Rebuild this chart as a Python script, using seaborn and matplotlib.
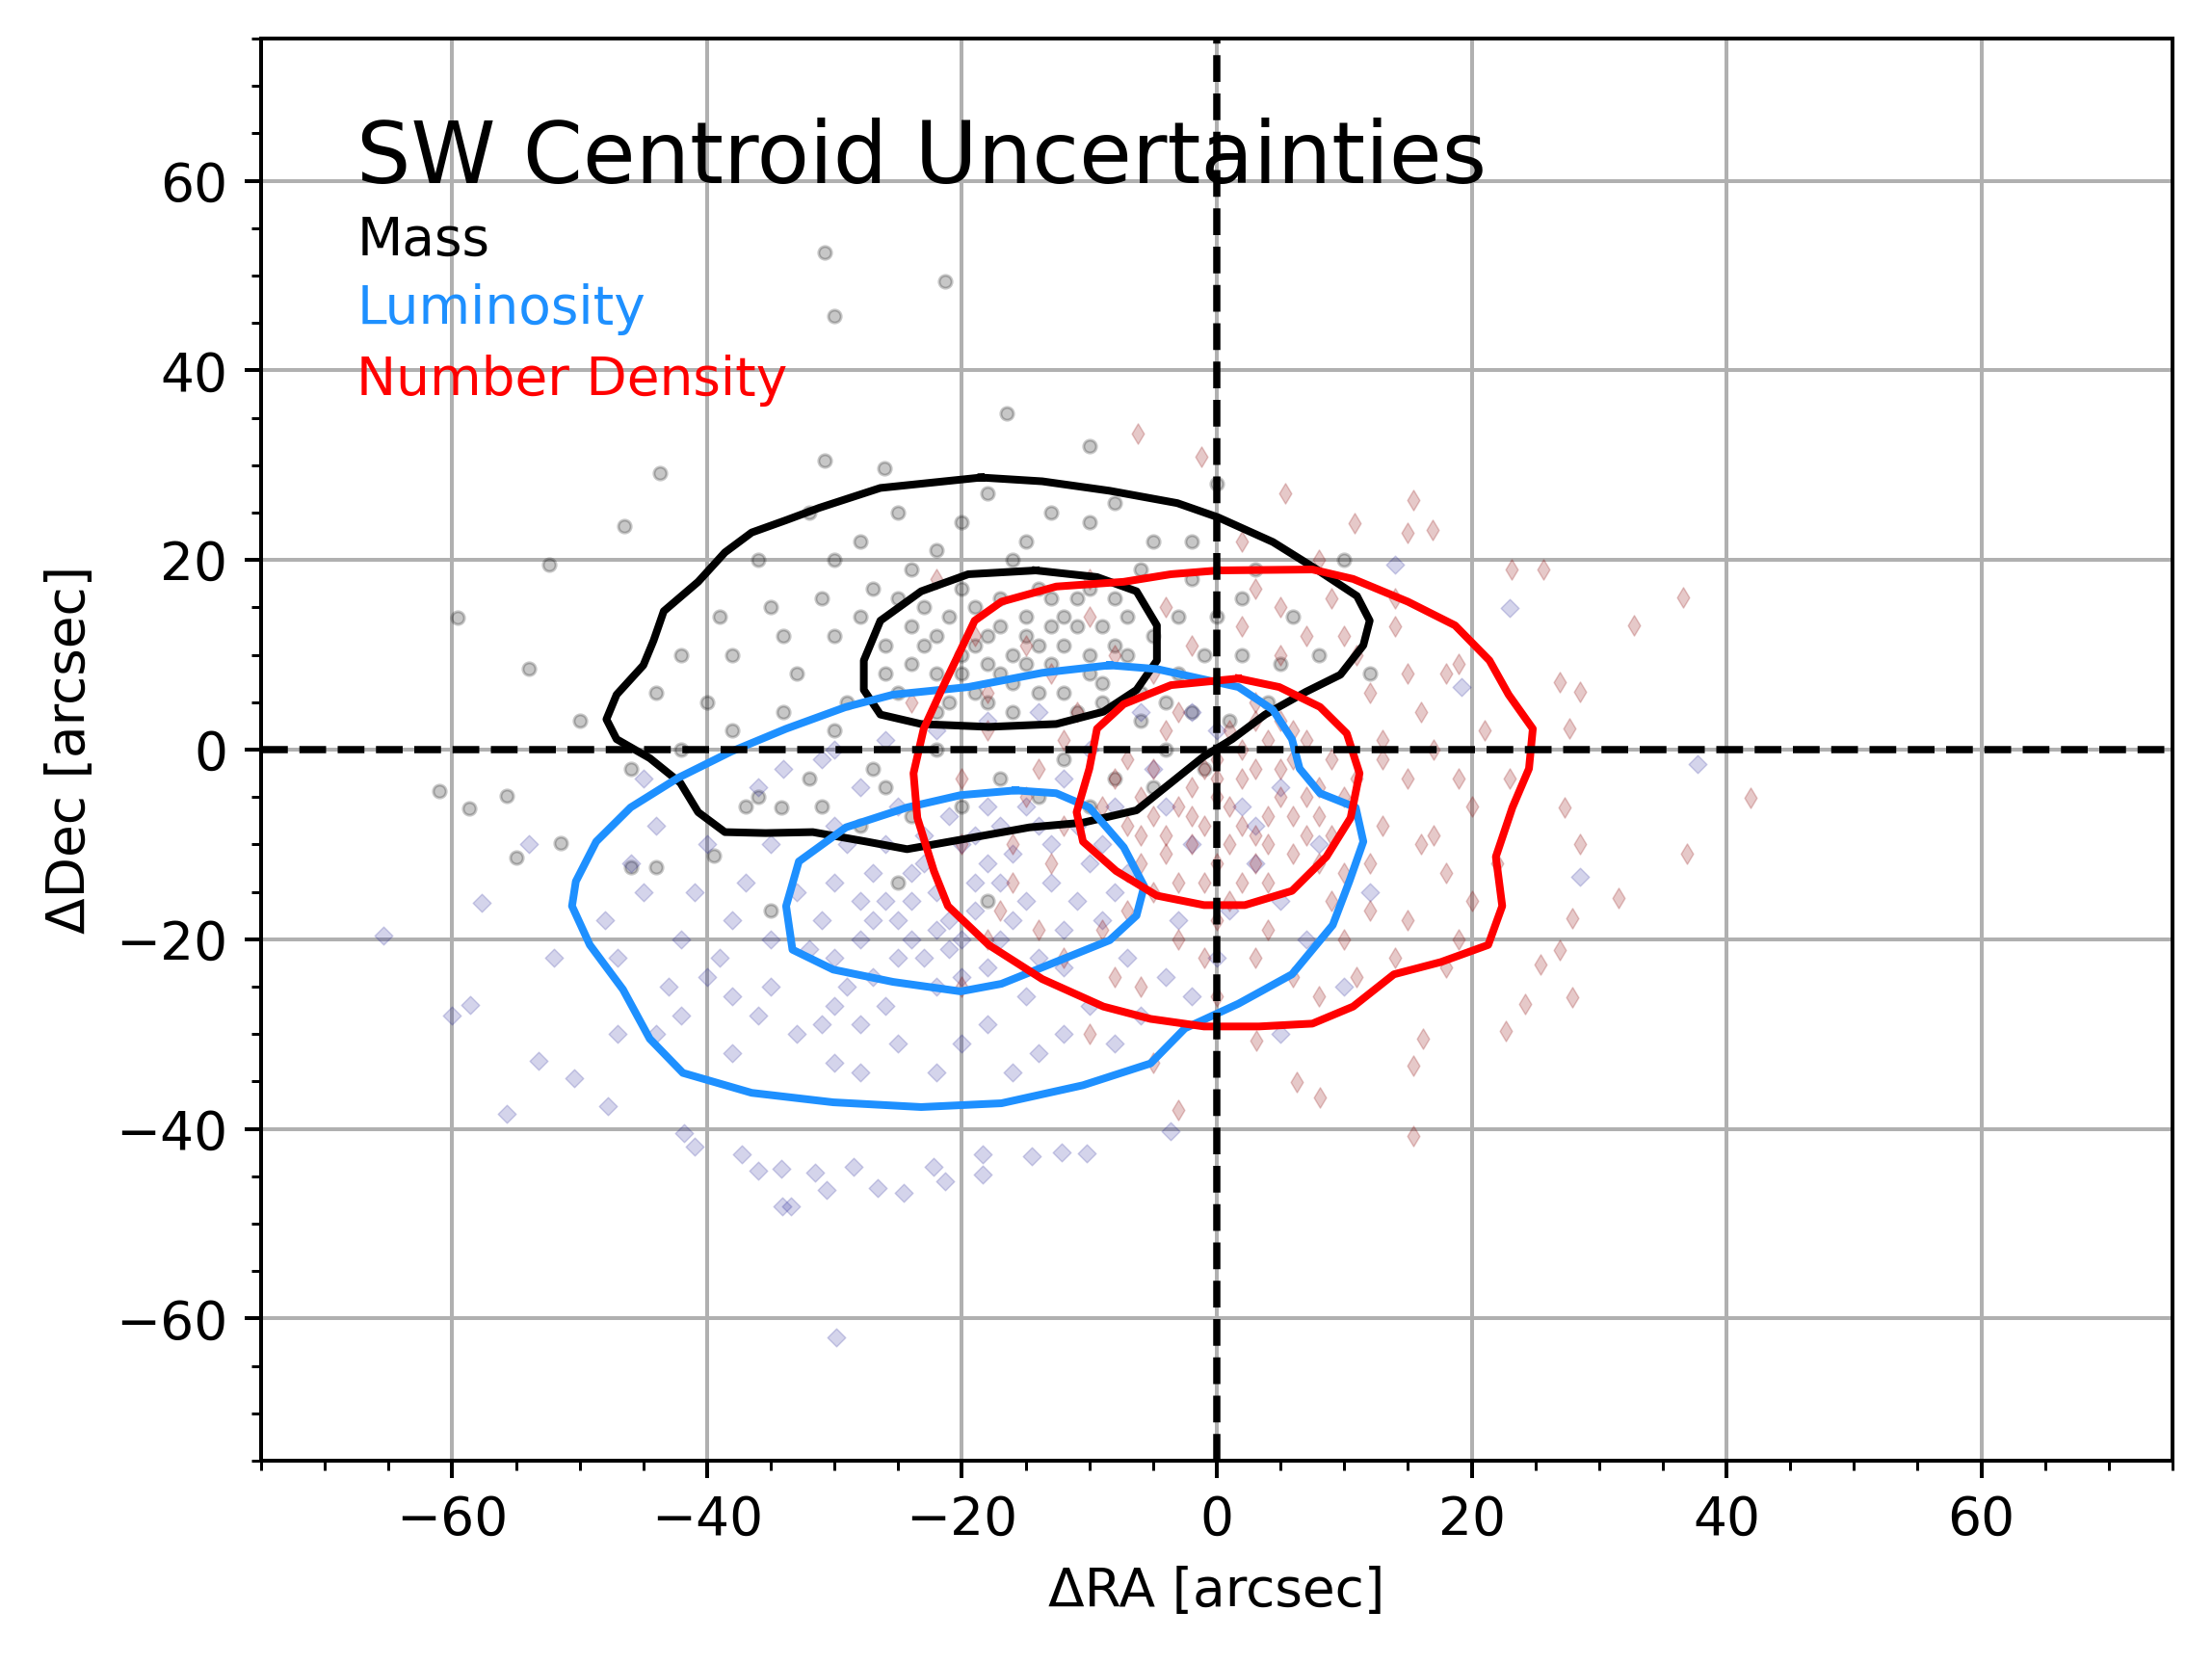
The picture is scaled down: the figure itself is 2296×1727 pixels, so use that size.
import matplotlib
matplotlib.use('Agg')
import matplotlib.pyplot as plt
import numpy as np
import pandas as pd
import seaborn as sns
from matplotlib.ticker import MultipleLocator

plt.rcParams['font.size'] = 11

# Scatter samples (arcsec offsets)
mass_x = [-20, -18, -15, -12, -10, -14, -17, -22, -24, -19, -13, -9, -7, -11, -16, -21, -25, -23, -8, -6,
          -15, -18, -12, -20, -26, -10, -14, -17, -22, -9,
          -16, -13, -11, -19, -21, -23, -17, -14, -8, -10, -12, -16, -20, -24, -18, -15, -13, -7, -9, -22,
          -26, -19, -11, -5, -3, -1, -4, -28, -25, -6,
          -30, -35, -38, -40, -33, -30, -28, -25, -20, -15, -10, -5, -2, 0, 2, 4, -2, -4, -8, -14,
          -20, -26, -32, -36, -42, -44, -36, -32, -18, -8, 3, 6, 8, -3, -28, -38, -34, -27, -6, -1,
          -12, -22, -30, -24,
          -31, -29, -34, -39, -27, -17, -10, -5, 1, 5, -2, -13, -22, -42, -37, -24, -31, -46, 2, -16,
          -30.8, -21.3, -30.0, -16.5, -43.7, -30.8, -26.1, -46.5, -52.4, -59.6, -54.0, -61.0, -55.7, -58.7,
          -51.5, -55.0, -46.0, -44.0, -39.5, -34.2, -35.0, -10, 0, 10, 12, -50, -25, -18]
mass_y = [10, 12, 14, 11, 8, 6, 8, 12, 9, 15, 16, 13, 10, 4, 4, 5, 6, 15, 16, 6,
          9, 5, 14, 17, 11, 17, 11, 13, 8, 7,
          10, 9, 13, 11, 14, 11, 16, 17, 11, 10, 6, 7, 8, 13, 9, 12, 13, 14, 5, 4,
          8, 6, 16, 12, 14, 10, 5, 14, 16, 3,
          20, 15, 10, 5, 8, 2, 22, 25, 24, 22, 24, 22, 18, 14, 10, 5, 4, 0, -3, -5,
          -6, -4, -3, -5, 0, 6, 20, 25, 27, 26, 19, 14, 10, 8, -8, 2, 12, 17, 19, -2,
          -1, 0, 12, 19,
          16, 5, 4, 14, -2, -3, -6, -4, 3, 9, 22, 25, 21, 10, -6, -7, -6, -2, 16, 20,
          52.4, 49.4, 45.7, 35.5, 29.2, 30.5, 29.7, 23.6, 19.5, 13.9, 8.5, -4.4, -4.9, -6.2,
          -9.9, -11.4, -12.4, -12.4, -11.2, -6.1, -17.0, 32, 28, 20, 8, 3, -14, -16]

lum_x = [-25, -22, -28, -20, -18, -15, -30, -26, -23, -12, -10, -17, -21, -27, -31, -24, -19, -14, -29, -16,
         -8, -11, -26, -22, -18, -32, -13, -20, -24, -28, -15, -9, -25, -17, -21, -30, -12, -23, -27, -19,
         -24, -21, -19, -16, -13, -27, -29, -23, -17, -11, -25, -20, -14, -30, -33, -26, -22, -18, -9, -7,
         -35, -36, -31, -39, -41, -28, -16, -8, -2, 3, -4, -12, -31, -43, -47,
         -40, -45, -47, -42, -38, -30, -22, -14, -6, 0, 5, 8, 5, 0, -6, -14, -22, -30, -36, -42,
         -38, -35, -28, -18, -10, -3, -2, 2, -5, -10, -28, -35, -44, -48, -40, -33, -25, -12, -4, 3,
         -8, -2, -18, -34, -38, -44, -30, -20, -7, 1, -37, -46, -15, -26, 7,
         -65.4, -57.7, -58.6, -55.7, -53.2, -50.4, -47.8, -41.8, -41.0, -37.3, -36.0, -34.2, -34.1, -33.4,
         -31.5, -30.6, -28.5, -26.6, -24.6, -22.2, -21.3, -18.4, -18.4, -14.5, -12.2, -10.2, -3.6, -29.9,
         37.7, 28.5, 23.0, 19.2, 14.0, -54, -52, -60, 5, 10, -45, 12]
lum_y = [-18, -15, -20, -20, -12, -16, -14, -10, -22, -19, -12, -8, -7, -24, -18, -13, -17, -22, -10, -11,
         -15, -8, -16, -25, -23, -21, -14, -10, -20, -16, -6, -18, -6, -20, -18, -22, -23, -9, -13, -14,
         -16, -21, -9, -18, -10, -18, -25, -12, -14, -16, -22, -24, -8, -8, -15, -27, -19, -6, -10, -13,
         -20, -28, -29, -22, -15, -34, -34, -31, -26, -8, -6, -3, -1, -25, -30,
         -10, -15, -22, -28, -32, -33, -34, -32, -28, -22, -16, -10, -4, 2, 4, 4, 2, 0, -4, -20,
         -18, -25, -29, -29, -27, -18, -10, -6, -2, 0, -4, -10, -8, -18, -24, -30, -31, -30, -24, -12,
         -6, 4, 3, -2, -26, -30, -27, -31, -22, -17, -14, -12, -26, 1, -20,
         -19.6, -16.2, -26.9, -38.4, -32.8, -34.7, -37.6, -40.4, -41.9, -42.7, -44.4, -44.2, -48.2, -48.2,
         -44.6, -46.4, -44.0, -46.2, -46.7, -44.0, -45.5, -44.8, -42.7, -42.9, -42.5, -42.6, -40.2, -62.0,
         -1.5, -13.4, 14.9, 6.6, 19.5, -10, -22, -28, -30, -25, -3, -15]

num_x = [0, 2, 4, -3, -5, 6, 1, -2, 3, 7, -7, 5, -1, 8, -6, 2, -4, 9, 0, 4,
         -8, 6, -3, 1, 3, -5, 7, -9, 5, -1, 2, 8, -2, 4, -6, 0, 6, -4, 9, 3,
         1, 3, -2, 5, -4, 0, 2, 6, -6, 4, -1, 7, 1, -3, 8, -7, 3, -5, 10, 0,
         12, 16, 19, 15, 10, -13, -16, -14, -8, 3, 11, 19, 22, 14, -10, 5, 18, -18, 13, -12,
         -15, -18, -20, -17, -12, -6, 0, 6, 10, 15, 18, 20, 21, 19, 14, 9, 3, -4, -10, -15,
         -18, -13, -11, 12, 15, 12, 16, -8, -2, 5, 11, -14, -16, -9, -3, 4, 9, 13, 17, 14,
         -20, 8, -7, 18, -12, 11, 17, 2, -5, -19, 7, 13, 10, -1, 20,
         -6.2, -1.2, 5.4, 15.4, 10.8, 15.0, 16.9, 23.1, 25.6, 36.6, 32.7, 26.9, 28.5, 27.7, 41.9,
         27.3, 28.5, 36.9, 31.5, 27.9, 26.9, 25.4, 27.9, 24.2, 22.7, 15.4, 16.2, 8.1, 6.3, 3.1,
         15.4, -5, -10, -3, -20, -24, -22, 2, 8, 23]
num_y = [-5, -3, -7, -6, -2, -1, 2, -10, -12, -9, -8, 3, -14, -4, -12, -8, 2, -1, -1, -14,
         -3, -11, 4, -16, 5, -15, 1, -6, -5, -8, 0, -7, -4, -10, -5, -12, 2, -9, -9, -2,
         -6, -9, -7, -2, -11, -3, -14, -7, -9, 1, -2, -5, -10, -14, -12, -1, 3, -7, -5, -18,
         -17, -10, -3, 8, 12, 8, -10, -19, -24, -22, -24, -20, -12, 16, 18, 15, -23, -20, -1, 1,
         -5, 2, -10, -17, -22, -25, -26, -24, -20, -18, -13, -6, 2, 9, 13, 16, 17, 15, 14, 11,
         6, -12, 4, -12, -3, 6, 4, 10, 11, 10, 10, -2, -14, -19, -20, -19, -16, -8, 0, -22,
         -3, -26, -17, 8, -8, -3, -9, 13, 8, 12, 12, 1, -13, -22, -16,
         33.3, 30.9, 27.0, 26.3, 23.9, 22.9, 23.2, 19.0, 19.0, 16.1, 13.1, 7.1, 6.1, 2.2, -5.1,
         -6.1, -10.0, -11.0, -15.7, -17.8, -21.1, -22.7, -26.1, -26.8, -29.7, -33.3, -30.5, -36.7, -35.1, -30.7,
         -40.8, -33, -30, -38, -25, 5, 18, 22, 20, -3]

# Density contour outlines (outer and inner level per tracer)
mass_outer_x = [-18.5, -26.4, -31.2, -33.8, -36.5, -38.6, -40.7, -43.4, -44.2, -45.0, -47.1, -47.9, -47.1, -44.5,
                -42.1, -40.7, -38.6, -35.4, -31.7, -27.5, -24.3, -20.1, -14.7, -10.5, -6.3, -3.6, -1.0, 1.2,
                3.8, 7.0, 9.7, 11.5, 12.0, 11.0, 7.5, 4.4, 0.1, -3.1, -8.4, -13.7]
mass_outer_y = [28.7, 27.6, 25.5, 24.2, 22.9, 20.8, 17.7, 14.6, 11.5, 8.9, 5.8, 3.2, 1.1, -0.9,
                -3.5, -6.6, -8.7, -8.8, -8.7, -9.7, -10.5, -9.5, -8.2, -7.7, -6.4, -3.5, -0.7, 1.1,
                3.7, 6.1, 7.9, 11.0, 13.6, 16.2, 19.3, 21.9, 24.5, 26.0, 27.3, 28.3]
mass_inner_x = [-14.2, -19.5, -23.2, -26.4, -27.7, -27.7, -26.4, -23.2, -17.9, -12.6, -8.9, -6.3, -4.7, -4.7,
                -6.3, -9.4]
mass_inner_y = [18.9, 18.5, 16.7, 13.6, 9.4, 6.3, 3.7, 2.7, 2.4, 2.7, 4.0, 6.3, 9.4, 13.1,
                16.7, 18.2]

lum_outer_x = [-8.4, -13.7, -19.5, -25.4, -29.1, -33.8, -38.1, -42.3, -46.0, -48.7, -50.3, -50.6, -49.2, -46.6,
               -44.5, -41.9, -36.5, -30.1, -23.2, -16.9, -10.5, -5.2, -2.5, 1.7, 5.9, 9.1, 10.4, 11.5,
               10.9, 8.1, 6.5, 5.9, 4.4, 1.7, -1.0, -4.7]
lum_outer_y = [8.9, 8.1, 6.6, 5.8, 4.5, 2.2, -0.2, -3.0, -6.1, -9.7, -13.9, -16.5, -20.6, -25.3,
               -30.5, -34.1, -36.2, -37.2, -37.7, -37.3, -35.4, -33.1, -29.4, -26.8, -23.7, -18.5, -13.9, -9.7,
               -6.1, -4.6, -2.0, 1.1, 4.2, 6.6, 7.4, 8.5]
lum_inner_x = [-15.8, -20.1, -24.3, -29.1, -32.8, -33.8, -33.3, -30.1, -25.4, -20.1, -16.9, -13.2, -8.4, -6.3,
               -5.7, -7.3, -10.0, -12.6]
lum_inner_y = [-4.3, -4.8, -6.1, -8.2, -11.8, -16.5, -21.1, -23.2, -24.5, -25.5, -24.7, -22.7, -20.1, -17.5,
               -14.4, -10.3, -6.1, -4.6]

num_outer_x = [0.1, 7.5, 10.7, 15.0, 18.7, 21.4, 22.9, 24.8, 24.5, 23.2, 21.9, 22.4, 21.3, 17.6,
               13.9, 10.7, 7.5, 3.3, -1.0, -5.2, -8.9, -13.7, -17.9, -21.1, -22.2, -23.5, -23.8, -23.0,
               -21.6, -20.1, -19.0, -16.9, -12.6, -7.3, -3.6]
num_outer_y = [18.9, 19.0, 18.0, 15.6, 13.1, 9.4, 5.8, 2.2, -2.0, -6.1, -11.3, -16.5, -20.6, -22.4,
               -23.7, -27.1, -28.9, -29.2, -29.2, -28.4, -27.1, -24.2, -20.6, -16.5, -12.8, -7.2, -2.5, 2.2,
               6.3, 10.5, 13.6, 15.6, 17.2, 17.7, 18.5]
num_inner_x = [1.7, 4.9, 8.1, 10.2, 11.2, 10.5, 8.6, 5.9, 2.2, -1.0, -4.7, -7.9, -10.5, -11.0,
               -10.0, -9.4, -7.3, -3.6]
num_inner_y = [7.5, 6.6, 4.5, 1.7, -2.5, -7.2, -11.3, -14.9, -16.4, -16.4, -15.4, -12.8, -9.7, -6.6,
               -2.0, 2.2, 4.8, 6.8]

labels = ['Mass', 'Luminosity', 'Number Density']
line_colors = ['black', 'dodgerblue', 'red']


def closed(xs, ys):
    return pd.DataFrame({'x': list(xs) + [xs[0]], 'y': list(ys) + [ys[0]]})


fig = plt.figure(figsize=(2296 / 360, 1727 / 360), dpi=360)
ax = fig.add_axes([271 / 2296, 1 - 1516 / 1727, (2255 - 271) / 2296, (1516 - 40) / 1727])

ax.grid(True, color='#b0b0b0', linewidth=0.8)
ax.set_axisbelow(True)

# scatter clouds
sns.scatterplot(x=mass_x, y=mass_y, marker='o', s=7, color='k', edgecolor='k', linewidth=0.6,
                alpha=0.22, ax=ax, zorder=2)
sns.scatterplot(x=lum_x, y=lum_y, marker='D', s=7, color='darkblue', edgecolor='darkblue', linewidth=0.3,
                alpha=0.17, ax=ax, zorder=2)
sns.scatterplot(x=num_x, y=num_y, marker='d', s=9, color='darkred', edgecolor='darkred', linewidth=0.3,
                alpha=0.21, ax=ax, zorder=2)

# contours
contours = [(mass_outer_x, mass_outer_y, mass_inner_x, mass_inner_y),
            (lum_outer_x, lum_outer_y, lum_inner_x, lum_inner_y),
            (num_outer_x, num_outer_y, num_inner_x, num_inner_y)]
for (ox, oy, ix, iy), c in zip(contours, line_colors):
    for xs, ys in [(ox, oy), (ix, iy)]:
        sns.lineplot(data=closed(xs, ys), x='x', y='y', sort=False, estimator=None,
                     color=c, linewidth=1.6, ax=ax, zorder=4)

ax.axvline(0, color='k', linestyle='--', linewidth=1.5, zorder=5)
ax.axhline(0, color='k', linestyle='--', linewidth=1.5, zorder=5)

ax.set_xlim(-75, 75)
ax.set_ylim(-75, 75)
ax.xaxis.set_major_locator(MultipleLocator(20))
ax.yaxis.set_major_locator(MultipleLocator(20))
ax.xaxis.set_minor_locator(MultipleLocator(5))
ax.yaxis.set_minor_locator(MultipleLocator(5))
ax.set_xlabel('ΔRA [arcsec]')
ax.set_ylabel('ΔDec [arcsec]')

ax.text(-67.5, 59.8, 'SW Centroid Uncertainties', fontsize=17.8, va='baseline', zorder=6)
for lab, c, yy in zip(labels, line_colors, [52.2, 44.9, 37.4]):
    ax.text(-67.5, yy, lab, color=c, fontsize=11, va='baseline', zorder=6)

fig.savefig('out.png', dpi=360)
